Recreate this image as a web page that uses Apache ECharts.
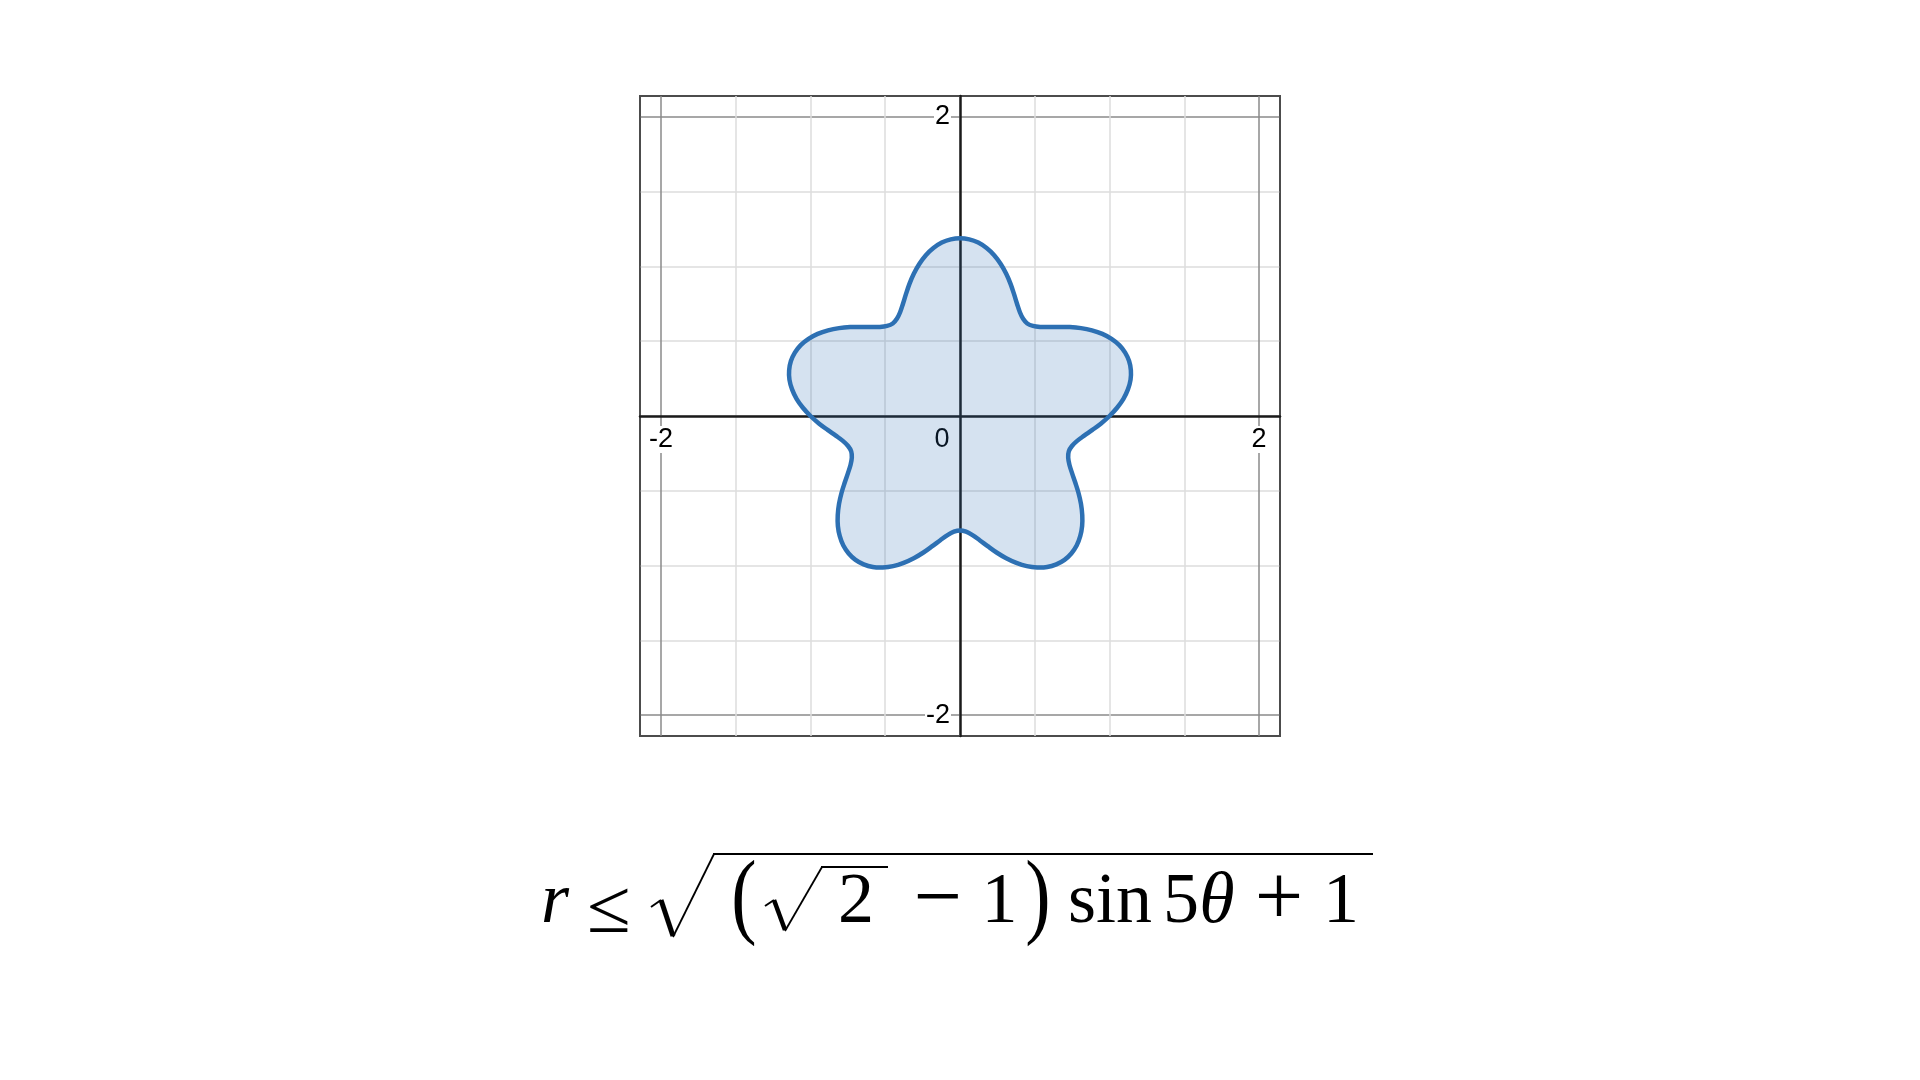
<!DOCTYPE html>
<html>
<head>
<meta charset="utf-8">
<script src="https://cdn.jsdelivr.net/npm/echarts@6/dist/echarts.min.js"></script>
<style>
html,body{margin:0;padding:0;background:#fff;}
#chart{width:1920px;height:1080px;}
</style>
</head>
<body>
<div id="chart"></div>
<script>
// ---- data ----
// polar angle of each boundary sample (degrees, counter-clockwise from +x)
const thetaDeg = [0,3,6,9,12,15,18,21,24,27,30,33,36,39,42,45,48,51,54,57,
  60,63,66,69,72,75,78,81,84,87,90,93,96,99,102,105,108,111,114,117,
  120,123,126,129,132,135,138,141,144,147,150,153,156,159,162,165,168,171,174,177,
  180,183,186,189,192,195,198,201,204,207,210,213,216,219,222,225,228,231,234,237,
  240,243,246,249,252,255,258,261,264,267,270,273,276,279,282,285,288,291,294,297,
  300,303,306,309,312,315,318,321,324,327,330,333,336,339,342,345,348,351,354,357];
// boundary radius at each angle
const radius = [
  1.000,1.052,1.099,1.137,1.166,1.183,1.189,1.183,1.166,1.137,1.099,1.052,1.000,0.945,0.890,0.841,0.801,0.775,0.765,0.775,0.801,0.841,0.890,0.945,
  1.000,1.052,1.099,1.137,1.166,1.183,1.189,1.183,1.166,1.137,1.099,1.052,1.000,0.945,0.890,0.841,0.801,0.775,0.765,0.775,0.801,0.841,0.890,0.945,
  1.000,1.052,1.099,1.137,1.166,1.183,1.189,1.183,1.166,1.137,1.099,1.052,1.000,0.945,0.890,0.841,0.801,0.775,0.765,0.775,0.801,0.841,0.890,0.945,
  1.000,1.052,1.099,1.137,1.166,1.183,1.189,1.183,1.166,1.137,1.099,1.052,1.000,0.945,0.890,0.841,0.801,0.775,0.765,0.775,0.801,0.841,0.890,0.945,
  1.000,1.052,1.099,1.137,1.166,1.183,1.189,1.183,1.166,1.137,1.099,1.052,1.000,0.945,0.890,0.841,0.801,0.775,0.765,0.775,0.801,0.841,0.890,0.945
];
// tick labels shown on the axes
const xLabelValues = [-2, 0, 2];
const xLabelTexts  = ['-2', '0', '2'];
const yLabelValues = [-2, 2];
const yLabelTexts  = ['-2', '2'];
// axis ranges
const xMin = -2.14, xMax = 2.14, yMin = -2.14, yMax = 2.14;

// ---- layout ----
const G = {left: 640, top: 96, width: 640, height: 640};
const pxPerUnit = G.width / (xMax - xMin);
const polarCenter = [G.left + (0 - xMin) * pxPerUnit, G.top + (yMax - 0) * pxPerUnit];
const polarMaxR = 2;
// put the axes (line + labels) through the origin
const xAxisOffset = -((0 - yMin) * pxPerUnit);
const yAxisOffset = -((0 - xMin) * pxPerUnit);

const minor = '#dcdcdc', major = '#8a8a8a', frame = '#4d4d4d';
// split lines: min edge, -2, -1.5, -1, -0.5, 0, 0.5, 1, 1.5, 2, max edge
const splitColors = [frame, major, minor, minor, minor, minor, minor, minor, minor, major, frame];

function findLabel(v, vals, texts) {
  for (let i = 0; i < vals.length; i++) if (Math.abs(v - vals[i]) < 1e-6) return texts[i];
  return null;
}
const labelFont = {fontSize: 27, fontFamily: '"Liberation Sans", Arial, sans-serif', color: '#000'};

// ---- formula pieces ----
const SERIF = '"Liberation Serif", "Times New Roman", serif';
function ftxt(str, cx, base, size, italic, sx) {
  return {
    type: 'text', x: cx, y: base - 0.26 * size, scaleX: sx || 1, silent: true, z: 10,
    style: {
      text: str, font: (italic ? 'italic ' : '') + size + 'px ' + SERIF,
      fill: '#000', align: 'center', verticalAlign: 'middle'
    }
  };
}
function fline(points, w) {
  return {type: 'polyline', silent: true, z: 10, shape: {points: points},
    style: {stroke: '#000', lineWidth: w, fill: null, lineCap: 'butt', lineJoin: 'miter'}};
}
const BASE = 922;
const formula = [
  ftxt('r', 555, BASE, 72, true),
  ftxt('\u2264', 609, BASE + 10, 76, false, 1.05),
  // outer radical
  fline([[651, 907], [661, 900]], 2),
  fline([[661, 900], [673, 936]], 5),
  fline([[673, 937], [714, 854]], 1.8),
  fline([[713, 854], [1373, 854]], 2),
  ftxt('(', 744, BASE + 4, 95, false, 0.8),
  // inner radical
  fline([[765, 906], [774, 900]], 2),
  fline([[774, 900], [785, 930]], 4.5),
  fline([[785, 931], [822, 867]], 1.8),
  fline([[821, 867], [888, 867]], 2),
  ftxt('2', 856, BASE, 72, false),
  ftxt('\u2212', 938, BASE + 3, 86, false),
  ftxt('1', 999.5, BASE, 72, false),
  ftxt(')', 1038, BASE + 4, 95, false, 0.8),
  ftxt('sin', 1110, BASE, 72, false, 1.0),
  ftxt('5', 1181, BASE, 72, false),
  ftxt('\u03b8', 1217, BASE, 72, true),
  ftxt('+', 1279, BASE + 3, 86, false),
  ftxt('1', 1341, BASE, 72, false)
];

const chart = echarts.init(document.getElementById('chart'), null, {renderer: 'canvas'});
chart.setOption({
  animation: false,
  backgroundColor: '#fff',
  grid: {left: G.left, top: G.top, width: G.width, height: G.height, show: true,
    borderColor: frame, borderWidth: 2, backgroundColor: 'transparent', containLabel: false},
  xAxis: {
    type: 'value', min: xMin, max: xMax, splitNumber: 8,
    position: 'bottom', offset: xAxisOffset,
    axisLine: {show: true, onZero: false, lineStyle: {color: '#1a1a1a', width: 2.5}},
    axisTick: {show: false},
    splitLine: {show: true, lineStyle: {color: splitColors, width: 1.5}},
    axisLabel: {
      show: true, margin: 10, ...labelFont,
      formatter: function (v) {
        const t = findLabel(v, xLabelValues, xLabelTexts);
        if (t === null) return '';
        if (t === '0') return '{z|' + t + '}{s| }';
        return '{b|' + t + '}';
      },
      rich: {
        b: {...labelFont, backgroundColor: '#fff', padding: [0, 1]},
        z: {...labelFont},
        s: {...labelFont, width: 36}
      }
    }
  },
  yAxis: {
    type: 'value', min: yMin, max: yMax, splitNumber: 8,
    position: 'left', offset: yAxisOffset,
    axisLine: {show: true, onZero: false, lineStyle: {color: '#1a1a1a', width: 2.5}},
    axisTick: {show: false},
    splitLine: {show: true, lineStyle: {color: splitColors, width: 1.5}},
    axisLabel: {
      show: true, margin: 9, ...labelFont,
      formatter: function (v) {
        const t = findLabel(v, yLabelValues, yLabelTexts);
        return t === null ? '' : '{b|' + t + '}';
      },
      rich: {b: {...labelFont, backgroundColor: '#fff', padding: [0, 1]}}
    }
  },
  polar: {center: polarCenter, radius: polarMaxR * pxPerUnit},
  radiusAxis: {type: 'value', min: 0, max: polarMaxR, show: false,
    axisLine: {show: false}, splitLine: {show: false}, axisLabel: {show: false}, axisTick: {show: false}},
  angleAxis: {type: 'value', min: 0, max: 360, startAngle: 0, clockwise: false, show: false,
    axisLine: {show: false}, splitLine: {show: false}, axisLabel: {show: false}, axisTick: {show: false}},
  series: [{
    type: 'custom',
    coordinateSystem: 'polar',
    polarIndex: 0,
    silent: true,
    data: thetaDeg.map(function (t, i) { return [radius[i], t]; }),
    renderItem: function (params, api) {
      if (params.dataIndex !== 0) return null;
      const pts = thetaDeg.map(function (t, i) { return api.coord([radius[i], t]); });
      return {
        type: 'polygon',
        shape: {points: pts, smooth: 0.35},
        style: {fill: 'rgba(45,112,179,0.2)', stroke: '#2d70b3', lineWidth: 4.5, lineJoin: 'round'}
      };
    }
  }],
  graphic: formula
});
</script>
</body>
</html>
